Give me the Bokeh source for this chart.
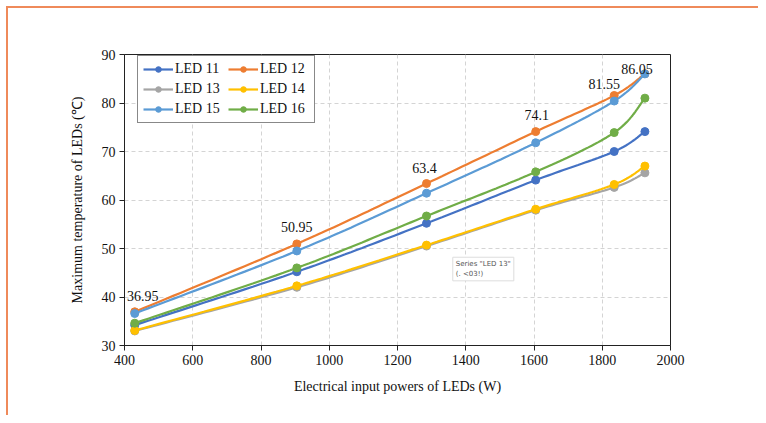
from bokeh.plotting import figure
from bokeh.models import ColumnDataSource, Legend, LegendItem, LabelSet, Label, FixedTicker
from bokeh.embed import file_html
from bokeh.resources import INLINE
import numpy as np

# ---- data ----
power = [430, 905, 1285, 1605, 1835, 1925]
led11 = [34.2, 45.2, 55.2, 64.1, 70.0, 74.1]
led12 = [36.95, 50.95, 63.4, 74.1, 81.55, 86.05]
led13 = [33.0, 42.0, 50.5, 57.9, 62.6, 65.6]
led14 = [33.1, 42.3, 50.7, 58.1, 63.2, 67.0]
led15 = [36.6, 49.5, 61.4, 71.8, 80.4, 86.0]
led16 = [34.6, 46.0, 56.7, 65.8, 73.9, 81.0]
series_names = ["LED 11", "LED 12", "LED 13", "LED 14", "LED 15", "LED 16"]
series_values = [led11, led12, led13, led14, led15, led16]
x_ticks = [400, 600, 800, 1000, 1200, 1400, 1600, 1800, 2000]
y_ticks = [30, 40, 50, 60, 70, 80, 90]

colors = ["#4472C4", "#ED7D31", "#A5A5A5", "#FFC000", "#5B9BD5", "#70AD47"]
label_dx = [8, 0, -2, 1, -10, -8]
label_dy = [16, 17, 16, 17, 11, 5]

SERIF = "Liberation Serif"


def smooth(xs, ys, n=24):
    """Excel-like smoothed line: Catmull-Rom style cubic Bezier through the points."""
    xs = np.asarray(xs, float)
    ys = np.asarray(ys, float)
    P = np.column_stack([xs, ys])
    out = [P[0]]
    for i in range(len(P) - 1):
        p0 = P[i - 1] if i > 0 else P[i]
        p1 = P[i]
        p2 = P[i + 1]
        p3 = P[i + 2] if i + 2 < len(P) else P[i + 1]
        c1 = p1 + (p2 - p0) / 6.0
        c2 = p2 - (p3 - p1) / 6.0
        t = np.linspace(0, 1, n)[1:, None]
        seg = ((1 - t) ** 3) * p1 + 3 * ((1 - t) ** 2) * t * c1 + 3 * (1 - t) * t ** 2 * c2 + t ** 3 * p2
        out.extend(seg)
    out = np.array(out)
    return out[:, 0], out[:, 1]


p = figure(width=752, height=409, x_range=(400, 2000), y_range=(30, 90),
           output_backend="svg", toolbar_location=None,
           min_border_left=116, min_border_top=46, min_border_right=90, min_border_bottom=72)
p.styles = {"border-top": "2px solid #EF8A5A", "border-left": "2px solid #EF8A5A",
            "margin-left": "6px", "margin-top": "6px"}

p.background_fill_color = "white"
p.border_fill_color = "white"
p.outline_line_color = "#222222"
p.outline_line_width = 1

for ax in (p.xaxis[0], p.yaxis[0]):
    ax.axis_line_color = "#222222"
    ax.major_tick_line_color = "#222222"
    ax.major_tick_out = 5
    ax.major_tick_in = 0
    ax.minor_tick_line_color = None
    ax.major_label_text_font = SERIF
    ax.major_label_text_font_size = "14px"
    ax.major_label_text_color = "#111111"
    ax.axis_label_text_font = SERIF
    ax.axis_label_text_font_size = "14px"
    ax.axis_label_text_font_style = "normal"
    ax.axis_label_text_color = "#111111"

p.xaxis.ticker = FixedTicker(ticks=x_ticks)
p.yaxis.ticker = FixedTicker(ticks=y_ticks)
p.xaxis.axis_label = "Electrical input powers of LEDs (W)"
p.yaxis.axis_label = "Maximum temperature of LEDs (\u2103)"
p.xaxis.axis_label_standoff = 11
p.yaxis.axis_label_standoff = 14
p.xaxis.major_label_standoff = 4
p.yaxis.major_label_standoff = 4

for g in (p.xgrid[0], p.ygrid[0]):
    g.grid_line_color = "#D4D4D4"
    g.grid_line_dash = "4 3"
    g.grid_line_width = 1

items = {}
for name, vals, col in zip(series_names, series_values, colors):
    sx, sy = smooth(power, vals)
    r_line = p.line(sx, sy, line_color=col, line_width=2.2)
    r_pts = p.scatter(power, vals, size=8, marker="circle", fill_color=col, line_color=col)
    items[name] = LegendItem(label=name, renderers=[r_line, r_pts])

lab_src = ColumnDataSource(dict(x=power, y=led12, text=[f"{v:g}" for v in led12],
                                dx=label_dx, dy=label_dy))
labels = LabelSet(x="x", y="y", text="text", source=lab_src, x_offset="dx", y_offset="dy",
                  text_align="center", text_baseline="middle",
                  text_font=SERIF, text_font_size="14px", text_color="#111111")
p.add_layout(labels)

tip = Label(x=1362, y=48.2, text='Series "LED 13"\n(. <03!)', text_font="DejaVu Sans",
            text_font_size="7px", text_color="#555555", text_align="left", text_baseline="top",
            background_fill_color="white", border_line_color="#DDDDDD", padding=3)
p.add_layout(tip)

# legend laid out column-major: first column 11, 13, 15; second column 12, 14, 16
legend_order = ["LED 11", "LED 13", "LED 15", "LED 12", "LED 14", "LED 16"]
legend = Legend(items=[items[n] for n in legend_order], ncols=2, location=(13, 222),
                orientation="vertical")
legend.label_text_font = SERIF
legend.label_text_font_size = "14px"
legend.label_text_color = "#111111"
legend.glyph_width = 30
legend.glyph_height = 14
legend.label_height = 14
legend.label_width = 49
legend.label_standoff = 2
legend.spacing = 4
legend.padding = 5
legend.margin = 0
legend.border_line_color = "#111111"
legend.border_line_width = 1
legend.background_fill_color = "white"
legend.background_fill_alpha = 1
p.add_layout(legend)

open("out.html", "w").write(file_html(p, INLINE))
